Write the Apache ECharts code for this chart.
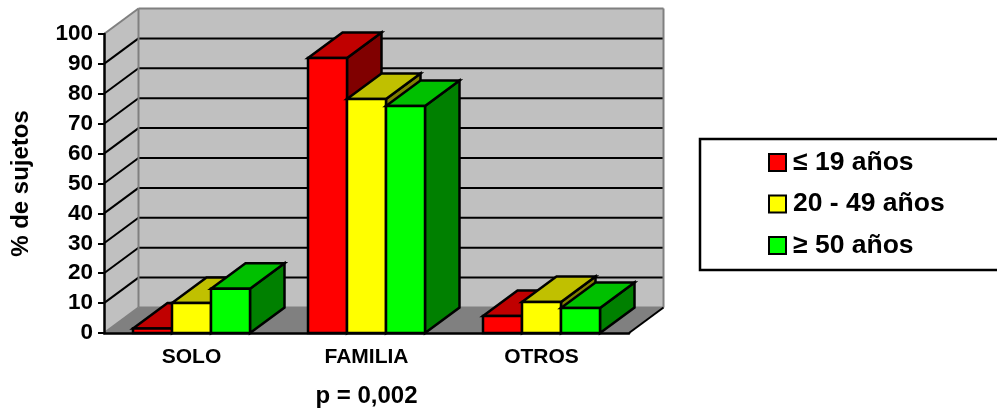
<!DOCTYPE html>
<html>
<head>
<meta charset="utf-8">
<style>
html, body { margin: 0; padding: 0; background: #fff; overflow: hidden; }
#chart { width: 997px; height: 409px; }
</style>
<script src="https://cdn.jsdelivr.net/npm/echarts@6/dist/echarts.min.js"></script>
</head>
<body>
<div id="chart"></div>
<script>
var categories = ['SOLO', 'FAMILIA', 'OTROS'];
var seriesNames = ['≤ 19 años', '20 - 49 años', '≥ 50 años'];
var menores = [1.5, 92, 5.7];
var adultos = [10, 78.3, 10.4];
var mayores = [14.8, 75.9, 8.4];
var yTicks = [0, 10, 20, 30, 40, 50, 60, 70, 80, 90, 100];

// fondo del grafico 3D
var depthX = 34.5;
var depthY = -25.5;
var barRatio = 39 / 175;
var fontName = '"Liberation Sans", Arial, sans-serif';

var palette = [
    { front: '#FF0000', top: '#C00000', side: '#800000' },
    { front: '#FFFF00', top: '#C0C000', side: '#808000' },
    { front: '#00FF00', top: '#00C000', side: '#008000' }
];

function poly(points, fill) {
    return {
        type: 'polygon',
        shape: { points: points },
        style: { fill: fill, stroke: '#000', lineWidth: 2.5, lineJoin: 'miter' }
    };
}

function seg(x1, y1, x2, y2, color, width) {
    return {
        type: 'line',
        shape: { x1: x1, y1: y1, x2: x2, y2: y2 },
        style: { stroke: color, lineWidth: width }
    };
}

function renderWalls(params, api) {
    var r = params.coordSys;
    var xl = r.x, xr = r.x + r.width, yt = r.y, yb = r.y + r.height;
    var plain = function (pts, fill) {
        return { type: 'polygon', shape: { points: pts }, style: { fill: fill } };
    };
    var kids = [
        plain([[xl + depthX, yt + depthY], [xr + depthX, yt + depthY], [xr + depthX, yb + depthY], [xl + depthX, yb + depthY]], '#C0C0C0'),
        plain([[xl, yt], [xl + depthX, yt + depthY], [xl + depthX, yb + depthY], [xl, yb]], '#C0C0C0'),
        plain([[xl, yb], [xr, yb], [xr + depthX, yb + depthY], [xl + depthX, yb + depthY]], '#808080')
    ];
    yTicks.forEach(function (v) {
        if (v === 0 || v === 100) return;
        var y = api.coord([0, v])[1];
        kids.push(seg(xl, y, xl + depthX, y + depthY, '#000', 2));
        kids.push(seg(xl + depthX, y + depthY, xr + depthX, y + depthY, '#000', 2));
    });
    kids.push(seg(xl, yt, xl + depthX, yt + depthY, '#808080', 2));
    kids.push(seg(xl + depthX, yt + depthY, xr + depthX, yt + depthY, '#808080', 2));
    kids.push(seg(xr + depthX, yt + depthY, xr + depthX, yb + depthY, '#808080', 2));
    kids.push(seg(xl + depthX, yt + depthY, xl + depthX, yb + depthY, '#808080', 2));
    kids.push(seg(xl + depthX, yb + depthY, xr + depthX, yb + depthY, '#808080', 2));
    kids.push(seg(xl, yb, xl + depthX, yb + depthY, '#808080', 2));
    kids.push(seg(xr, yb, xr + depthX, yb + depthY, '#000', 2));
    return { type: 'group', children: kids };
}

function barRenderer(idx) {
    return function (params, api) {
        var top = api.coord([api.value(0), api.value(1)]);
        var base = api.coord([api.value(0), 0]);
        var w = api.size([1, 0])[0] * barRatio;
        var x0 = top[0] + (idx - 1.5) * w;
        var x1 = x0 + w;
        var c = palette[idx];
        return {
            type: 'group',
            children: [
                poly([[x1, top[1]], [x1 + depthX, top[1] + depthY], [x1 + depthX, base[1] + depthY], [x1, base[1]]], c.side),
                poly([[x0, top[1]], [x0 + depthX, top[1] + depthY], [x1 + depthX, top[1] + depthY], [x1, top[1]]], c.top),
                poly([[x0, top[1]], [x1, top[1]], [x1, base[1]], [x0, base[1]]], c.front)
            ]
        };
    };
}

function toPoints(values) {
    return values.map(function (v, i) { return [i, v]; });
}

var chart = echarts.init(document.getElementById('chart'));
chart.setOption({
    animation: false,
    backgroundColor: '#fff',
    grid: { left: 104, top: 34, width: 525, height: 299, outerBoundsMode: 'none' },
    legend: {
        left: 700,
        top: 139,
        orient: 'vertical',
        data: seriesNames,
        icon: 'rect',
        padding: [10, 60, 11, 68],
        itemWidth: 17,
        itemHeight: 17,
        itemGap: 14.5,
        borderColor: '#000',
        borderWidth: 2.5,
        backgroundColor: '#fff',
        itemStyle: { borderColor: '#000', borderWidth: 2 },
        textStyle: { fontFamily: fontName, fontWeight: 'bold', fontSize: 26.5, color: '#000', padding: [0, 0, 0, 2] }
    },
    xAxis: {
        type: 'category',
        data: categories,
        z: 10,
        name: 'p = 0,002',
        nameLocation: 'middle',
        nameGap: 51,
        nameTextStyle: { fontFamily: fontName, fontWeight: 'bold', fontSize: 24, color: '#000' },
        axisLine: { lineStyle: { color: '#000', width: 2.5 } },
        axisTick: { length: 7, lineStyle: { color: '#000', width: 2 } },
        axisLabel: { fontFamily: fontName, fontWeight: 'bold', fontSize: 21, color: '#000', margin: 14 }
    },
    yAxis: {
        type: 'value',
        min: 0,
        max: 100,
        interval: 10,
        z: 10,
        name: '% de sujetos',
        nameLocation: 'middle',
        nameGap: 71,
        nameTextStyle: { fontFamily: fontName, fontWeight: 'bold', fontSize: 24, color: '#000' },
        axisLine: { show: true, lineStyle: { color: '#000', width: 2.5 } },
        axisTick: { show: true, length: 6, lineStyle: { color: '#000', width: 2 } },
        axisLabel: { fontFamily: fontName, fontWeight: 'bold', fontSize: 22.5, color: '#000', margin: 11 },
        splitLine: { show: false }
    },
    series: [
        { type: 'custom', name: 'paredes', clip: false, silent: true, data: [[0, 0]], renderItem: renderWalls },
        { type: 'custom', name: seriesNames[0], clip: false, itemStyle: { color: palette[0].front }, data: toPoints(menores), renderItem: barRenderer(0) },
        { type: 'custom', name: seriesNames[1], clip: false, itemStyle: { color: palette[1].front }, data: toPoints(adultos), renderItem: barRenderer(1) },
        { type: 'custom', name: seriesNames[2], clip: false, itemStyle: { color: palette[2].front }, data: toPoints(mayores), renderItem: barRenderer(2) }
    ]
});
</script>
</body>
</html>
